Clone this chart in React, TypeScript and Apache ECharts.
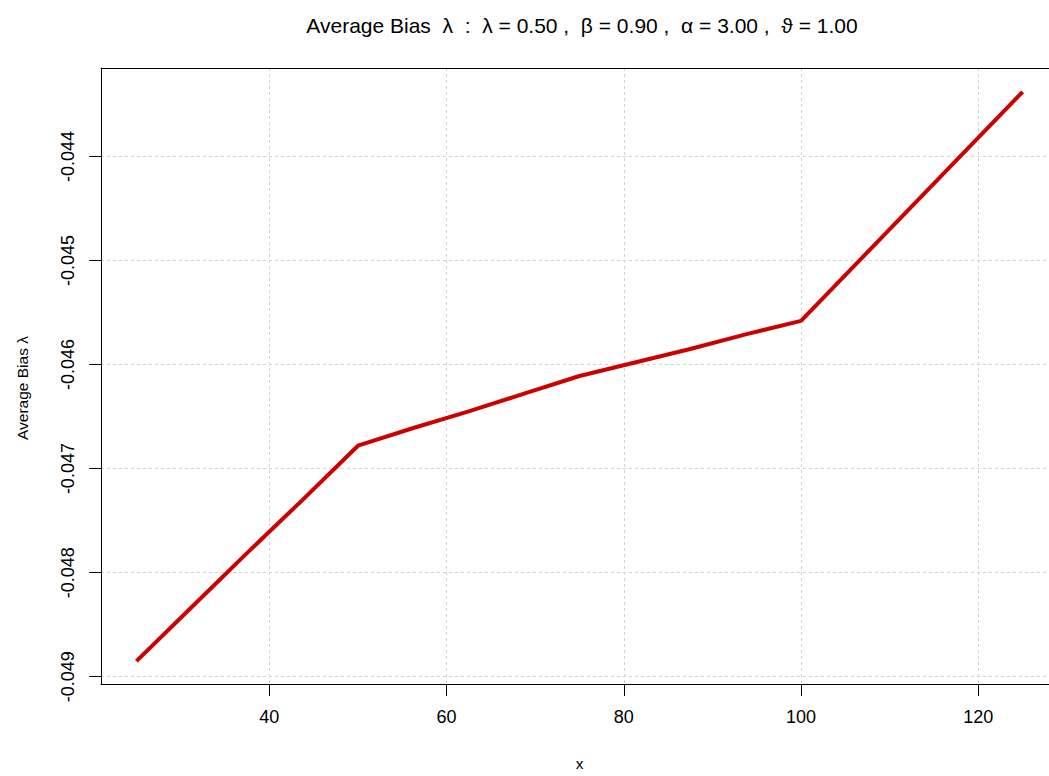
import React, { useEffect, useRef } from "react";
import * as echarts from "echarts";

const xValues = [25, 31.25, 37.5, 43.75, 50, 56.25, 62.5, 68.75, 75, 81.25, 87.5, 93.75, 100, 106.25, 112.5, 118.75, 125];
const biasValues = [
  -0.04885, -0.04833, -0.04781, -0.0473, -0.04678, -0.04661, -0.04645, -0.04628, -0.04611,
  -0.04598, -0.04585, -0.04571, -0.04558, -0.04503, -0.04448, -0.04393, -0.04338,
];
const xTickValues = [40, 60, 80, 100, 120];
const yTickValues = [-0.044, -0.045, -0.046, -0.047, -0.048, -0.049];

const titleText = "Average Bias  \u03bb  :  \u03bb = 0.50 ,  \u03b2 = 0.90 ,  \u03b1 = 3.00 ,  \u03d1 = 1.00";
const yName = "Average Bias \u03bb";
const xName = "x";

const FONT = "'Liberation Sans', Arial, Helvetica, sans-serif";

export default function App() {
  const ref = useRef<HTMLDivElement>(null);
  useEffect(() => {
    if (!ref.current) return;
    const chart = echarts.init(ref.current, undefined, { renderer: "svg" });
    const gridLine = { show: true, lineStyle: { color: "#d3d3d3", type: [3, 3] as any, width: 1 } };
    chart.setOption({
      animation: false,
      backgroundColor: "#ffffff",
      textStyle: { fontFamily: FONT, color: "#000" },
      title: {
        text: titleText,
        left: 577,
        top: 10,
        textAlign: "center",
        textStyle: { fontFamily: FONT, fontSize: 21, fontWeight: "normal", color: "#000" },
      },
      graphic: [
        {
          type: "text",
          x: 22,
          y: 388,
          rotation: Math.PI / 2,
          style: {
            text: yName,
            fontFamily: FONT,
            fontSize: 15.5,
            fill: "#000",
            align: "center",
            verticalAlign: "middle",
          },
        },
      ],
      grid: { left: 101, top: 68, width: 957, height: 623, containLabel: false },
      xAxis: [
        {
          type: "value",
          min: 21,
          max: 129,
          position: "bottom",
          name: xName,
          nameLocation: "middle",
          nameGap: 71,
          nameTextStyle: { fontFamily: FONT, fontSize: 15.5, color: "#000" },
          axisLine: { show: true, onZero: false, lineStyle: { color: "#000", width: 1 } },
          axisTick: { show: true, length: 12, customValues: xTickValues, lineStyle: { color: "#000" } },
          axisLabel: { show: true, customValues: xTickValues, margin: 24, fontFamily: FONT, fontSize: 18, color: "#000" },
          splitLine: gridLine,
        },
        {
          type: "value",
          min: 21,
          max: 129,
          position: "top",
          axisLine: { show: true, onZero: false, lineStyle: { color: "#000", width: 1 } },
          axisTick: { show: false },
          axisLabel: { show: false },
          splitLine: { show: false },
        },
      ],
      yAxis: [
        {
          type: "value",
          min: -0.04907,
          max: -0.04315,
          position: "left",
          axisLine: { show: true, onZero: false, lineStyle: { color: "#000", width: 1 } },
          axisTick: { show: true, length: 12, customValues: yTickValues, lineStyle: { color: "#000" } },
          axisLabel: {
            show: true,
            customValues: yTickValues,
            rotate: 90,
            margin: 24,
            fontFamily: FONT,
            fontSize: 18,
            color: "#000",
            formatter: (v: number) => v.toFixed(3),
          },
          splitLine: gridLine,
        },
        {
          type: "value",
          min: -0.04907,
          max: -0.04315,
          position: "right",
          axisLine: { show: true, onZero: false, lineStyle: { color: "#000", width: 1 } },
          axisTick: { show: false },
          axisLabel: { show: false },
          splitLine: { show: false },
        },
      ],
      series: [
        {
          type: "line",
          xAxisIndex: 0,
          yAxisIndex: 0,
          data: xValues.map((x, i) => [x, biasValues[i]]),
          showSymbol: false,
          symbol: "none",
          lineStyle: { color: "#cd0000", width: 4 },
          z: 5,
        },
      ],
    });
    return () => chart.dispose();
  }, []);
  return (
    <div style={{ position: "fixed", left: 0, top: 0, width: 1049, height: 776, overflow: "hidden", background: "#fff" }}>
      <div ref={ref} style={{ width: 1060, height: 776 }} />
    </div>
  );
}
